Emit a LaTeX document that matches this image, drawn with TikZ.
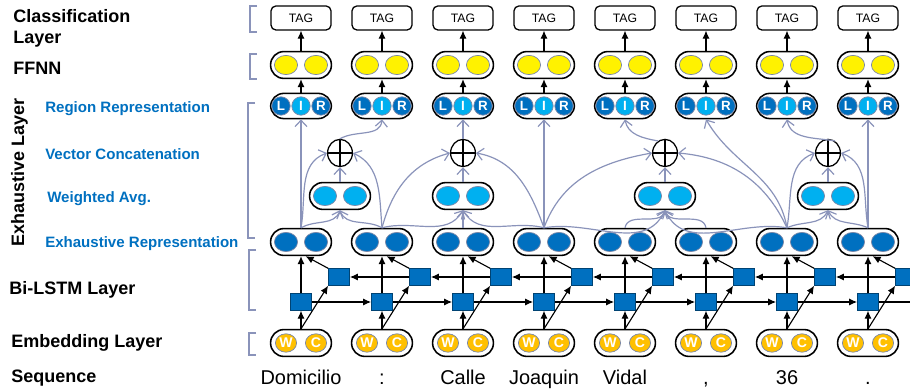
\documentclass[tikz,border=0pt]{standalone}
\usepackage{fontspec}
\setmainfont{Liberation Sans}
\usetikzlibrary{shapes.geometric, arrows.meta, positioning}

\definecolor{darkblue}{HTML}{0070C0}
\definecolor{lightblue}{HTML}{00B0F0}
\definecolor{wcorange}{HTML}{FFC000}
\definecolor{linkblue}{HTML}{8A93BA}
\definecolor{rimgray}{HTML}{7B88A8}

\begin{document}
\begin{tikzpicture}[x=0.025cm, y=0.025cm,
    pill/.style={draw, line width=1.1pt, rounded corners=0.33cm, minimum width=1.52cm, minimum height=0.67cm, inner sep=0pt},
    tagbox/.style={draw, line width=0.9pt, rounded corners=3.5pt, minimum width=1.5cm, minimum height=0.6cm, font=\fontsize{8.7}{10}\selectfont},
    dot/.style={ellipse, draw=rimgray, line width=0.5pt, minimum width=0.58cm, minimum height=0.48cm, inner sep=0pt},
    letter/.style={circle, draw=rimgray, line width=0.5pt, minimum size=0.46cm, inner sep=0pt, text=white, font=\fontsize{9.5}{10}\selectfont\bfseries},
    wc/.style={ellipse, fill=wcorange, draw=rimgray, line width=0.5pt, minimum width=0.53cm, minimum height=0.46cm, inner sep=0pt, text=white, font=\fontsize{10}{10}\selectfont\bfseries},
    cell/.style={draw=darkblue!60!black, fill=darkblue, line width=0.4pt, minimum width=0.53cm, minimum height=0.42cm, inner sep=0pt},
    plus/.style={ellipse, draw, line width=0.9pt, minimum width=0.62cm, minimum height=0.68cm, inner sep=0pt},
    flow/.style={-{Latex[length=2mm,width=1.8mm]}, line width=0.8pt},
    link/.style={-{Straight Barb[length=1.6mm,width=3mm]}, draw=linkblue, line width=0.85pt},
    layername/.style={anchor=base west, inner sep=0pt, font=\fontsize{12.8}{14}\selectfont\bfseries},
    sublayer/.style={anchor=base west, inner sep=0pt, text=darkblue, font=\fontsize{10.7}{12}\selectfont\bfseries},
    word/.style={anchor=base, inner sep=0pt, font=\fontsize{14.2}{16}\selectfont},
    brace/.style={draw=linkblue, line width=0.8pt}
]
\useasboundingbox (0,0) rectangle (910,-392);

% Layer names
\node[layername] (cls) at (13,-23) {Classification};
\node[layername] (clsb) at (13,-44) {Layer};
\node[layername] (ffnn) at (13,-75) {FFNN};
\node[layername, rotate=90] (exh) at (24,-247) {Exhaustive Layer};
\node[sublayer] (regrep) at (45,-113) {Region Representation};
\node[sublayer] (veccat) at (45,-160) {Vector Concatenation};
\node[sublayer] (wavg) at (47,-203) {Weighted Avg.};
\node[sublayer] (exrep) at (45,-248) {Exhaustive Representation};
\node[layername] (lstm) at (9,-295) {Bi-LSTM Layer};
\node[layername] (emb) at (11,-348) {Embedding Layer};
\node[layername] (seq) at (11,-383) {Sequence};

% Brackets
\draw[brace] (257,-6) -- (250,-6) -- (250,-32) -- (257,-32);
\draw[brace] (257,-54) -- (250,-54) -- (250,-79) -- (257,-79);
\draw[brace] (255,-103) -- (248,-103) -- (248,-238) -- (255,-238);
\draw[brace] (256,-250) -- (249,-250) -- (249,-310) -- (256,-310);
\draw[brace] (256,-333) -- (249,-333) -- (249,-355) -- (256,-355);

% Columns
\foreach \i in {1,...,8}{
    \pgfmathsetmacro{\x}{301+81*(\i-1)}
    \node[tagbox] (tag\i) at (\x,-18) {TAG};
    \node[pill] (ff\i) at (\x,-65) {};
    \node[dot, fill=yellow] at (\x-15,-65) {};
    \node[dot, fill=yellow] at (\x+15,-65) {};
    \node[pill, minimum height=0.63cm] (reg\i) at (\x,-106) {};
    \node[letter, fill=darkblue] at (\x-20,-106) {L};
    \node[letter, fill=lightblue] at (\x,-106) {I};
    \node[letter, fill=darkblue] at (\x+20,-106) {R};
    \node[pill] (ex\i) at (\x,-242) {};
    \node[dot, fill=darkblue] at (\x-15,-242) {};
    \node[dot, fill=darkblue] at (\x+15,-242) {};
    \node[cell] (bw\i) at (\x+38,-277) {};
    \node[cell] (fw\i) at (\x,-302) {};
    \node[pill] (emb\i) at (\x,-343) {};
    \node[wc] at (\x-15,-343) {W};
    \node[wc] at (\x+15,-343) {C};

    \draw[flow] (ff\i.north) -- (tag\i.south);
    \draw[flow] (reg\i.north) -- (ff\i.south);
    \draw[flow] (emb\i.north) -- (fw\i.south);
    \draw[flow] (emb\i.north) -- (bw\i.south west);
    \draw[flow] (fw\i.north) -- (ex\i.south);
    \draw[flow] (bw\i.north west) -- (ex\i.-72);
}

% Sequence
\foreach \i/\w in {1/Domicilio, 2/{:}, 3/Calle, 4/Joaquin, 5/Vidal, 6/{,}, 7/36, 8/.}{
    \pgfmathsetmacro{\x}{301+81*(\i-1)}
    \node[word] (w\i) at (\x,-385) {\w};
}

% Recurrent links
\foreach \i [evaluate=\i as \j using int(\i+1)] in {1,...,7}{
    \draw[flow] (fw\i.east) -- (fw\j.west);
    \draw[flow] (bw\j.west) -- (bw\i.east);
}
\coordinate (fwend) at (912,-302);
\draw[line width=0.8pt] (fw8.east) -- (fwend);

% Weighted averages and concatenations
\foreach \k/\x in {1/340, 2/463, 3/665, 4/828}{
    \node[pill] (wa\k) at (\x,-196) {};
    \node[dot, fill=lightblue] at (\x-15,-196) {};
    \node[dot, fill=lightblue] at (\x+15,-196) {};
    \node[plus] (o\k) at (\x,-153) {};
    \draw[line width=0.9pt] (o\k.north) -- (o\k.south) (o\k.west) -- (o\k.east);
    \draw[link] (wa\k.north) -- (o\k.south);
}

% Span 1-2
\draw[link] (ex1.north) -- (reg1.south);
\draw[link] (ex1.north) to[out=30,in=-110] (wa1.south);
\draw[link] (ex2.north) to[out=150,in=-70] (wa1.south);
\draw[link] (ex1.north) to[out=80,in=200] (o1.west);
\draw[link] (ex2.north) to[out=95,in=-25] (o1.east);
\draw[link] (o1.north) to[out=30,in=-95] (reg2.south);

% Span 2-4
\draw[link] (ex2.north) to[out=15,in=-120] (wa2.south);
\draw[link] (ex3.north) -- (wa2.south);
\draw[link] (ex4.north) to[out=165,in=-60] (wa2.south);
\draw[link] (ex2.north) to[out=75,in=195] (o2.west);
\draw[link] (ex4.north) to[out=110,in=-10] (o2.east);
\draw[link] (o2.north) -- (reg3.south);
\draw[link] (ex4.north) -- (reg4.south);

% Span 4-7
\draw[link] (ex4.north) to[out=10,in=-115] (wa3.south);
\draw[link] (ex5.north) to[out=80,in=-105] (wa3.south);
\draw[link] (ex6.north) to[out=100,in=-75] (wa3.south);
\draw[link] (ex7.north) to[out=170,in=-65] (wa3.south);
\draw[link] (ex4.north) to[out=70,in=190] (o3.west);
\draw[link] (ex7.north) to[out=115,in=-5] (o3.east);
\draw[link] (o3.120) to[out=170,in=-80] (reg5.south);
\draw[link] (ex7.north) to[out=100,in=-60] (reg6.south);

% Span 7-8
\draw[link] (ex7.north) to[out=25,in=-115] (wa4.south);
\draw[link] (ex8.north) to[out=155,in=-65] (wa4.south);
\draw[link] (ex7.north) to[out=80,in=200] (o4.west);
\draw[link] (ex8.north) to[out=100,in=-20] (o4.east);
\draw[link] (o4.60) to[out=170,in=-80] (reg7.south);
\draw[link] (ex8.north) -- (reg8.south);

\end{tikzpicture}
\end{document}
